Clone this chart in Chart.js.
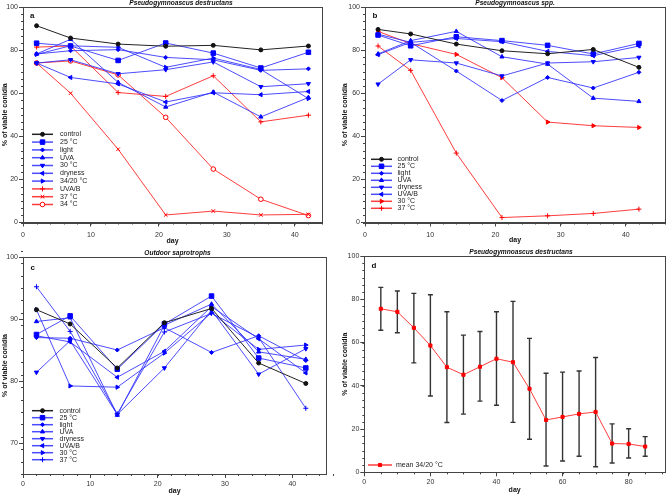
<!DOCTYPE html>
<html>
<head>
<meta charset="utf-8">
<script src="https://cdn.jsdelivr.net/npm/chart.js@4.4.0/dist/chart.umd.min.js"></script>
<style>
  body { margin: 0; background: #fff; width: 670px; height: 495px; position: relative; overflow: hidden; }
  canvas { position: absolute; }
</style>
</head>
<body>
<canvas id="pa" width="335" height="248" style="left:0;top:0"></canvas>
<canvas id="pb" width="335" height="248" style="left:335px;top:0"></canvas>
<canvas id="pc" width="335" height="247" style="left:0;top:248px"></canvas>
<canvas id="pd" width="335" height="247" style="left:335px;top:248px"></canvas>
<script>
// days of sampling
const days = [2, 7, 14, 21, 28, 35, 42];

// panel a - Pseudogymnoascus destructans
const aControl = [91.3, 85.6, 82.8, 81.8, 82.2, 80.1, 81.9];
const a25 = [83.2, 81.9, 75.2, 83.3, 78.6, 71.7, 79.0];
const aLight = [78.2, 79.7, 80.2, 76.6, 75.5, 70.6, 71.3];
const aUVA = [78.2, 85.0, 65.0, 53.6, 60.5, 49.0, 58.0];
const a30 = [74.0, 75.5, 69.0, 70.9, 74.5, 63.0, 64.4];
const aDry = [74.0, 67.3, 64.3, 55.9, 60.2, 59.3, 60.8];
const a3420 = [78.0, 82.0, 81.3, 72.0, 76.3, 71.0, 57.5];
const aUVAB = [81.4, 81.9, 60.3, 58.5, 68.1, 46.7, 49.8];
const a37 = [74.0, 60.0, 34.0, 3.5, 5.3, 3.5, 3.8];
const a34 = [74.0, 75.0, 68.5, 48.8, 24.8, 10.8, 3.2];

// panel b - Pseudogymnoascus spp.
const bControl = [89.6, 87.5, 82.8, 79.7, 78.3, 80.3, 72.0];
const b25 = [87.0, 82.0, 86.2, 84.4, 82.2, 78.2, 83.1];
const bLight = [87.4, 83.6, 70.3, 56.6, 67.3, 62.4, 69.7];
const bUVA = [78.2, 84.4, 88.7, 76.9, 73.5, 57.7, 56.2];
const bDry = [64.2, 75.5, 74.0, 68.0, 74.0, 74.6, 76.6];
const bUVAB = [77.9, 83.6, 85.4, 83.9, 79.4, 77.4, 81.9];
const b30 = [88.7, 83.0, 78.0, 67.2, 46.6, 44.9, 44.1];
const b37 = [81.9, 70.6, 32.2, 2.3, 3.1, 4.2, 6.2];

// panel c - Outdoor saprotrophs
const cControl = [91.5, 89.2, 82.1, 89.4, 91.7, 82.9, 79.6];
const c25 = [87.5, 90.5, 81.9, 89.2, 93.7, 83.7, 82.1];
const cLight = [87.0, 86.9, 85.0, 88.6, 84.6, 87.3, 83.3];
const cUVA = [89.6, 90.2, 74.5, 89.0, 92.4, 84.7, 83.5];
const cDry = [81.4, 86.5, 74.6, 82.1, 91.4, 81.1, 85.2];
const cUVAB = [87.3, 86.3, 80.6, 84.8, 92.0, 86.8, 81.3];
const c30 = [91.5, 79.2, 79.0, 84.5, 91.0, 85.1, 85.8];
const c37 = [95.2, 88.0, 74.7, 87.9, 90.9, 87.0, 75.6];

// panel d - mean 34/20 °C with error bars
const dDays = [5, 10, 15, 20, 25, 30, 35, 40, 45, 50, 55, 60, 65, 70, 75, 80, 85];
const dMean = [75.6, 74.2, 66.8, 58.6, 48.6, 45.1, 48.8, 52.5, 50.9, 38.6, 24.2, 25.6, 27.0, 27.9, 13.3, 13.1, 11.9];
const dHigh = [85.5, 83.8, 82.7, 82.1, 74.2, 63.4, 65.1, 74.2, 79.0, 61.9, 45.8, 46.3, 46.8, 53.1, 22.4, 20.1, 16.5];
const dLow = [65.7, 64.5, 50.6, 35.3, 23.0, 26.9, 32.9, 31.0, 23.1, 15.3, 2.9, 5.2, 7.4, 2.6, 4.3, 6.6, 7.4];

const FONT = 'Liberation Sans';
const BLACK = { line: '#222', mark: '#111' };
const BLUE = { line: 'rgba(45,45,255,0.85)', mark: '#0000ff' };
const RED = { line: 'rgba(255,40,40,0.9)', mark: '#ff0000' };

function series(label, xs, ys, col, style, r, rot, fill) {
  return {
    label: label,
    data: xs.map((x, i) => ({ x: x, y: ys[i] })),
    borderColor: col.line,
    backgroundColor: col.mark,
    pointBackgroundColor: fill || col.mark,
    pointBorderColor: col.mark,
    pointStyle: style,
    pointRadius: r,
    pointRotation: rot || 0,
    pointBorderWidth: 1,
    borderWidth: 1,
    tension: 0
  };
}

function decor(cfg) {
  return {
    id: 'decor',
    beforeDatasetsDraw(chart) {
      if (!cfg.errLow) return;
      const ctx = chart.ctx, xs = chart.scales.x, ys = chart.scales.y;
      ctx.save();
      ctx.strokeStyle = '#333';
      ctx.lineWidth = 1.4;
      ctx.beginPath();
      cfg.errX.forEach((d, i) => {
        const px = xs.getPixelForValue(d);
        const t = ys.getPixelForValue(cfg.errHigh[i]);
        const b = ys.getPixelForValue(cfg.errLow[i]);
        ctx.moveTo(px, t); ctx.lineTo(px, b);
        ctx.moveTo(px - 2.5, t); ctx.lineTo(px + 2.5, t);
        ctx.moveTo(px - 2.5, b); ctx.lineTo(px + 2.5, b);
      });
      ctx.stroke();
      ctx.restore();
    },
    afterDraw(chart) {
      const ctx = chart.ctx, a = chart.chartArea;
      const xs = chart.scales.x, ys = chart.scales.y;
      ctx.save();
      ctx.strokeStyle = '#444';
      ctx.lineWidth = 1;
      ctx.strokeRect(Math.round(a.left) + 0.5, Math.round(a.top) + 0.5,
        Math.round(a.right - a.left), Math.round(a.bottom - a.top));
      // minor ticks
      ctx.beginPath();
      const nx = Math.round((xs.max - xs.min) / cfg.xMinor);
      for (let k = 0; k <= nx; k++) {
        const px = Math.round(xs.getPixelForValue(xs.min + k * cfg.xMinor)) + 0.5;
        ctx.moveTo(px, a.bottom); ctx.lineTo(px, a.bottom + 2);
      }
      const ny = Math.round((ys.max - ys.min) / cfg.yMinor);
      for (let k = 0; k <= ny; k++) {
        const py = Math.round(ys.getPixelForValue(ys.min + k * cfg.yMinor)) + 0.5;
        ctx.moveTo(a.left, py); ctx.lineTo(a.left - 2, py);
      }
      ctx.stroke();
      // title and panel letter
      ctx.fillStyle = '#111';
      ctx.textAlign = 'center';
      ctx.textBaseline = 'middle';
      ctx.font = 'italic bold 6.6px "' + FONT + '"';
      ctx.fillText(cfg.title, cfg.tx, cfg.ty);
      ctx.textAlign = 'left';
      ctx.font = 'bold 8px "' + FONT + '"';
      ctx.fillText(cfg.letter, cfg.lx, cfg.ly);
      // legend inside the plot
      const H = Chart.helpers;
      ctx.font = '7px "' + FONT + '"';
      chart.data.datasets.forEach((d, i) => {
        const y = cfg.legY + i * cfg.legStep;
        ctx.strokeStyle = d.borderColor;
        ctx.lineWidth = 1.5;
        ctx.beginPath();
        ctx.moveTo(cfg.legX1, y); ctx.lineTo(cfg.legX2, y);
        ctx.stroke();
        ctx.fillStyle = d.pointBackgroundColor;
        ctx.strokeStyle = d.pointBorderColor;
        ctx.lineWidth = 1;
        const mx = (cfg.legX1 + cfg.legX2) / 2;
        if (H && H.drawPoint) {
          H.drawPoint(ctx, { pointStyle: d.pointStyle, radius: d.pointRadius, rotation: d.pointRotation, borderWidth: 1 }, mx, y);
        } else {
          ctx.beginPath(); ctx.arc(mx, y, d.pointRadius, 0, Math.PI * 2); ctx.fill();
        }
        ctx.fillStyle = '#222';
        ctx.fillText(d.label, cfg.legTX, y);
      });
      ctx.restore();
    }
  };
}

function makeChart(id, datasets, cfg) {
  const tickFont = { family: FONT, size: 7 };
  const titleFont = { family: FONT, size: 7, weight: 'bold' };
  return new Chart(document.getElementById(id), {
    type: 'line',
    data: { datasets: datasets },
    options: {
      responsive: false,
      animation: false,
      devicePixelRatio: 1,
      layout: { padding: { left: 0, top: cfg.top, right: cfg.right, bottom: 0 } },
      plugins: { legend: { display: false }, tooltip: { enabled: false }, title: { display: false } },
      scales: {
        x: {
          type: 'linear', min: cfg.xMin, max: cfg.xMax,
          ticks: { stepSize: cfg.xStep, font: tickFont, color: '#333', padding: cfg.xTickPad, maxRotation: 0 },
          afterBuildTicks: s => { s.ticks = s.ticks.filter(t => Math.abs(t.value % cfg.xStep) < 1e-6); },
          afterFit: s => { s.height = cfg.xH; },
          grid: { drawOnChartArea: false, tickLength: 4, color: '#444' },
          border: { color: '#444' },
          title: { display: true, text: 'day', font: titleFont, color: '#111', padding: { top: 0, bottom: cfg.xTitlePad } }
        },
        y: {
          min: cfg.yMin, max: cfg.yMax,
          ticks: { stepSize: cfg.yStep, font: tickFont, color: '#333', padding: 1 },
          afterBuildTicks: s => { s.ticks = s.ticks.filter(t => Math.abs(t.value % cfg.yStep) < 1e-6); },
          afterFit: s => { s.width = cfg.yW; },
          grid: { drawOnChartArea: false, tickLength: 4, color: '#444' },
          border: { color: '#444' },
          title: { display: true, text: '% of viable conidia', font: titleFont, color: '#111', padding: { top: cfg.yTitlePad, bottom: 0 } }
        }
      }
    },
    plugins: [decor(cfg)]
  });
}

makeChart('pa', [
  series('control', days, aControl, BLACK, 'circle', 2),
  series('25 °C', days, a25, BLUE, 'rect', 3.2),
  series('light', days, aLight, BLUE, 'rectRot', 2),
  series('UVA', days, aUVA, BLUE, 'triangle', 2.4),
  series('30 °C', days, a30, BLUE, 'triangle', 2.4, 180),
  series('dryness', days, aDry, BLUE, 'triangle', 2.4, 270),
  series('34/20 °C', days, a3420, BLUE, 'triangle', 2.4, 90),
  series('UVA/B', days, aUVAB, RED, 'cross', 2.5),
  series('37 °C', days, a37, RED, 'crossRot', 2.5),
  series('34 °C', days, a34, RED, 'circle', 2.3, 0, '#fff')
], {
  top: 7, right: 13, xMin: 0, xMax: 44, xStep: 10, yMin: 0, yMax: 100, yStep: 20,
  xH: 25.5, yW: 23, xTickPad: 4, xTitlePad: 3, yTitlePad: 0.5, xMinor: 2, yMinor: 20 / 6,
  title: 'Pseudogymnoascus destructans', tx: 181, ty: 3.5, letter: 'a', lx: 30, ly: 16,
  legY: 134.3, legStep: 7.8, legX1: 32, legX2: 53, legTX: 60
});

makeChart('pb', [
  series('control', days, bControl, BLACK, 'circle', 2),
  series('25 °C', days, b25, BLUE, 'rect', 3.2),
  series('light', days, bLight, BLUE, 'rectRot', 2),
  series('UVA', days, bUVA, BLUE, 'triangle', 2.4),
  series('dryness', days, bDry, BLUE, 'triangle', 2.4, 180),
  series('UVA/B', days, bUVAB, BLUE, 'triangle', 2.4, 270),
  series('30 °C', days, b30, RED, 'triangle', 2.4, 90),
  series('37 °C', days, b37, RED, 'cross', 2.5)
], {
  top: 7, right: 2, xMin: 0, xMax: 46, xStep: 10, yMin: 0, yMax: 100, yStep: 20,
  xH: 25.5, yW: 30, xTickPad: 4, xTitlePad: 3.5, yTitlePad: 5.7, xMinor: 2, yMinor: 20 / 6,
  title: 'Pseudogymnoascus spp.', tx: 180, ty: 3.2, letter: 'b', lx: 37.5, ly: 15.5,
  legY: 159.3, legStep: 7, legX1: 36, legX2: 57, legTX: 62.5
});

makeChart('pc', [
  series('control', days, cControl, BLACK, 'circle', 2),
  series('25 °C', days, c25, BLUE, 'rect', 3.2),
  series('light', days, cLight, BLUE, 'rectRot', 2),
  series('UVA', days, cUVA, BLUE, 'triangle', 2.4),
  series('dryness', days, cDry, BLUE, 'triangle', 2.4, 180),
  series('UVA/B', days, cUVAB, BLUE, 'triangle', 2.4, 270),
  series('30 °C', days, c30, BLUE, 'triangle', 2.4, 90),
  series('37 °C', days, c37, BLUE, 'cross', 2.5)
], {
  top: 9, right: 9, xMin: 0, xMax: 45, xStep: 10, yMin: 65, yMax: 100, yStep: 10,
  xH: 21, yW: 23, xTickPad: 2, xTitlePad: 0, yTitlePad: 0.5, xMinor: 2, yMinor: 2,
  title: 'Outdoor saprotrophs', tx: 177.5, ty: 5, letter: 'c', lx: 30.5, ly: 19.5,
  legY: 162.7, legStep: 7, legX1: 32, legX2: 53, legTX: 59.5
});

makeChart('pd', [
  series('mean 34/20 °C', dDays, dMean, RED, 'rect', 2.2)
], {
  top: 8, right: 2, xMin: 0, xMax: 91, xStep: 20, yMin: 0, yMax: 100, yStep: 20,
  xH: 22.7, yW: 29.3, xTickPad: 2, xTitlePad: 0.5, yTitlePad: 5.4, xMinor: 5, yMinor: 20 / 6,
  errX: dDays, errLow: dLow, errHigh: dHigh,
  title: 'Pseudogymnoascus destructans', tx: 186, ty: 3.7, letter: 'd', lx: 36.5, ly: 17.5,
  legY: 217, legStep: 7, legX1: 33, legX2: 57, legTX: 61
});
</script>
</body>
</html>
